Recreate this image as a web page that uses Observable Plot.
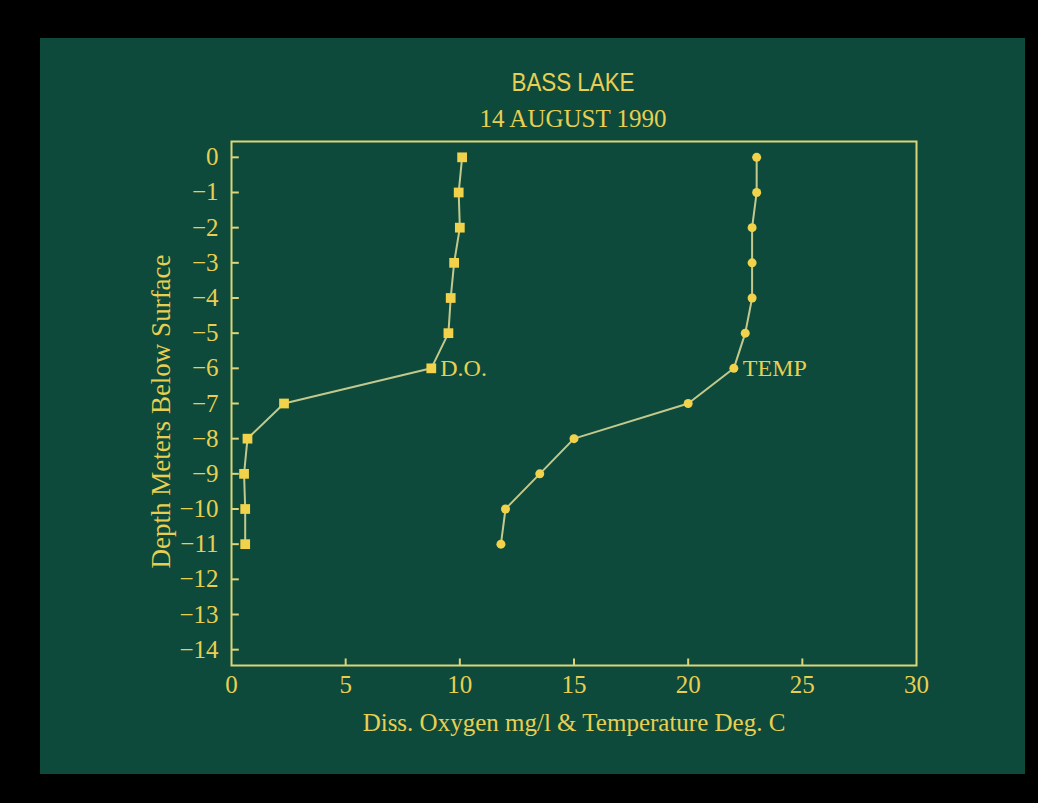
<!DOCTYPE html>
<html>
<head>
<meta charset="utf-8">
<script src="https://cdn.jsdelivr.net/npm/d3@7"></script>
<script src="https://cdn.jsdelivr.net/npm/@observablehq/plot@0.6"></script>
<style>
  html, body { margin: 0; padding: 0; background: #000; }
  body { width: 1038px; height: 803px; position: relative; overflow: hidden; }
  #panel { position: absolute; left: 40px; top: 38px; width: 985px; height: 736px; background: #0d4a3b; }
  .t1 { position: absolute; left: 233px; width: 600px; text-align: center; top: 31px;
        font-family: "Liberation Sans", sans-serif; transform: scaleX(0.86); transform-origin: 300px 0;
        font-size: 26px; line-height: 26px; color: #e8cf52; }
  .t2 { position: absolute; left: 233px; width: 600px; text-align: center; top: 68px;
        font-family: "Liberation Serif", serif; font-size: 25px; line-height: 25px; color: #e8cf52; }
  #chart { position: absolute; left: 0; top: 90px; }
</style>
</head>
<body>
<div id="panel">
  <div class="t1">BASS LAKE</div>
  <div class="t2">14 AUGUST 1990</div>
  <div id="chart"></div>
</div>
<script>
// Data
const depth = [0, -1, -2, -3, -4, -5, -6, -7, -8, -9, -10, -11];
const doValues = [10.1, 9.95, 10.0, 9.75, 9.6, 9.5, 8.75, 2.3, 0.7, 0.55, 0.6, 0.6];
const tempValues = [23.0, 23.0, 22.8, 22.8, 22.8, 22.5, 22.0, 20.0, 15.0, 13.5, 12.0, 11.8];
const xTicks = [0, 5, 10, 15, 20, 25, 30];
const yTicks = [0, -1, -2, -3, -4, -5, -6, -7, -8, -9, -10, -11, -12, -13, -14];
const seriesLabels = ["D.O.", "TEMP"];
const labelDepth = -6;
const xLabel = "Diss. Oxygen mg/l & Temperature Deg. C";
const yLabel = "Depth Meters Below Surface";

const xDomain = [0, 30];
const yDomain = [-14.45, 0.45];

const doData = depth.map((d, i) => ({depth: d, value: doValues[i]}));
const tempData = depth.map((d, i) => ({depth: d, value: tempValues[i]}));
const labelData = [
  {text: seriesLabels[0], depth: labelDepth, value: doValues[depth.indexOf(labelDepth)]},
  {text: seriesLabels[1], depth: labelDepth, value: tempValues[depth.indexOf(labelDepth)]}
];

const textColor = "#e8cf52";
const frameColor = "#dcd479";
const lineColor = "#c3c98c";
const markColor = "#f2d24a";

const chart = Plot.plot({
  width: 985,
  height: 646,
  marginLeft: 191,
  marginRight: 109,
  marginTop: 13,
  marginBottom: 109,
  style: {background: "transparent", color: textColor, fontFamily: "'Liberation Serif', serif", fontSize: "25px"},
  x: {domain: xDomain, ticks: xTicks},
  y: {domain: yDomain, ticks: yTicks},
  marks: [
    Plot.frame({stroke: frameColor, strokeWidth: 2}),
    Plot.axisX({ticks: xTicks, tickSize: 0, tickPadding: 10, label: null, fontSize: 25}),
    Plot.axisY({ticks: yTicks, tickSize: 0, tickPadding: 13, label: null, fontSize: 25}),
    Plot.text([xLabel], {text: d => d, frameAnchor: "bottom", textAnchor: "middle", dy: 57, lineAnchor: "middle", fontSize: 25, fill: textColor}),
    Plot.text([yLabel], {text: d => d, frameAnchor: "left", textAnchor: "middle", rotate: -90, dx: -70, dy: 8, lineAnchor: "middle", fontSize: 27, fill: textColor}),
    Plot.link(yTicks, {x1: () => xDomain[0], x2: () => xDomain[0] + 0.32, y1: d => d, y2: d => d, stroke: frameColor, strokeWidth: 2}),
    Plot.link(xTicks.slice(1, -1), {x1: d => d, x2: d => d, y1: () => yDomain[0], y2: () => yDomain[0] + 0.2, stroke: frameColor, strokeWidth: 2}),
    Plot.line(doData, {x: "value", y: "depth", stroke: lineColor, strokeWidth: 2}),
    Plot.line(tempData, {x: "value", y: "depth", stroke: lineColor, strokeWidth: 2}),
    Plot.dot(doData, {x: "value", y: "depth", symbol: "square", r: 5.5, fill: markColor, stroke: "none"}),
    Plot.dot(tempData, {x: "value", y: "depth", symbol: "circle", r: 4.5, fill: markColor, stroke: "none"}),
    Plot.text(labelData, {x: "value", y: "depth", text: "text", textAnchor: "start", dx: 9, fontSize: 24, fill: textColor})
  ]
});
document.getElementById("chart").appendChild(chart);
</script>
</body>
</html>
